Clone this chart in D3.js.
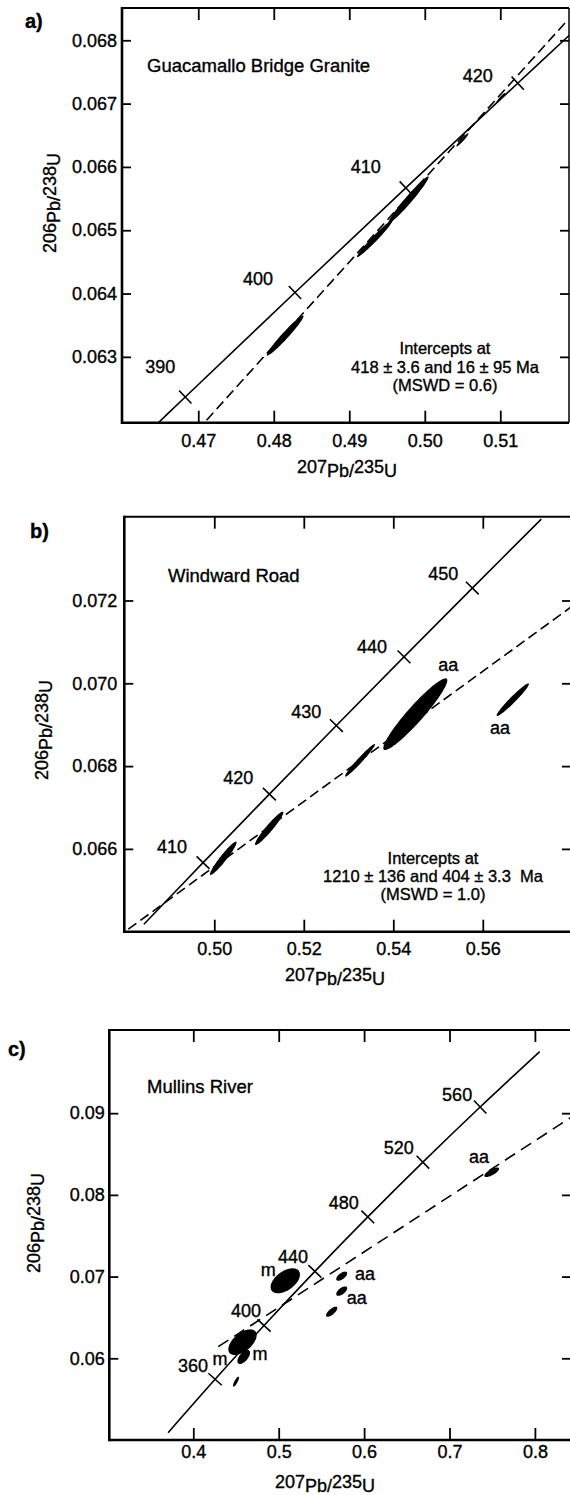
<!DOCTYPE html>
<html><head><meta charset="utf-8">
<script src="https://cdn.jsdelivr.net/npm/d3@7"></script>
<style>
html,body{margin:0;padding:0;background:#fff;}
svg{display:block;font-family:"Liberation Sans",Arial,Helvetica,sans-serif;}
svg text{fill:#000;stroke:#000;stroke-width:0.35px;}
</style></head><body>
<svg id="chart" width="570" height="1495"></svg>
<script>
// ================= DATA =================
// ---- panel a : Guacamallo Bridge Granite ----
const aTitle = "Guacamallo Bridge Granite";
const aXTicks = [0.47, 0.48, 0.49, 0.50, 0.51];
const aYTicks = [0.063, 0.064, 0.065, 0.066, 0.067, 0.068];
const aConcAge = [385, 390, 400, 410, 420, 425];
const aConcX = [0.46107, 0.46828, 0.48281, 0.49749, 0.51231, 0.51977];
const aConcY = [0.061542, 0.062366, 0.064016, 0.065668, 0.067322, 0.06815];
const aAgeTicks = [390, 400, 410, 420];
const aDiscX = [0.4711, 0.5187];
const aDiscY = [0.0620, 0.06829];
const aEllCX = [0.48151, 0.49337, 0.49785, 0.50498, 0.51007];
const aEllCY = [0.063337, 0.064867, 0.065481, 0.066427, 0.067092];
const aEllEX = [0.00243, 0.00235, 0.00266, 0.0008, 0.0006];
const aEllEY = [0.000316, 0.00029, 0.000369, 0.000104, 0.000078];
const aEllRho = [0.97, 0.977, 0.974, 0.95, 0.95];
const aNoteText = [];
const aNoteX = [];
const aNoteY = [];
const aIntercept = ["Intercepts at", "418 \u00b1 3.6 and 16 \u00b1 95 Ma", "(MSWD = 0.6)"];

// ---- panel b : Windward Road ----
const bTitle = "Windward Road";
const bXTicks = [0.50, 0.52, 0.54, 0.56];
const bYTicks = [0.066, 0.068, 0.070, 0.072];
const bConcAge = [401, 410, 420, 430, 440, 450, 460];
const bConcX = [0.48427, 0.49749, 0.51231, 0.52728, 0.54239, 0.55766, 0.57307];
const bConcY = [0.06418, 0.065668, 0.067322, 0.068979, 0.070638, 0.0723, 0.073965];
const bAgeTicks = [410, 420, 430, 440, 450];
const bDiscX = [0.48078, 0.5797];
const bDiscY = [0.06406, 0.07184];
const bEllCX = [0.50201, 0.51227, 0.53256, 0.54492, 0.5667];
const bEllCY = [0.065773, 0.066497, 0.06814, 0.069254, 0.069604];
const bEllEX = [0.00298, 0.00317, 0.00335, 0.00715, 0.00362];
const bEllEY = [0.000403, 0.000403, 0.000394, 0.000865, 0.000394];
const bEllRho = [0.952, 0.952, 0.975, 0.944, 0.966];
const bNoteText = ["aa", "aa"];
const bNoteX = [0.55229, 0.56384];
const bNoteY = [0.070442, 0.068937];
const bIntercept = ["Intercepts at", "1210 \u00b1 136 and 404 \u00b1 3.3  Ma", "(MSWD = 1.0)"];

// ---- panel c : Mullins River ----
const cTitle = "Mullins River";
const cXTicks = [0.4, 0.5, 0.6, 0.7, 0.8];
const cYTicks = [0.06, 0.07, 0.08, 0.09];
const cConcAge = [320, 360, 400, 440, 480, 520, 560, 600];
const cConcX = [0.37047, 0.42553, 0.48281, 0.54239, 0.60436, 0.66883, 0.73588, 0.80563];
const cConcY = [0.050893, 0.057434, 0.064016, 0.070638, 0.077302, 0.084007, 0.090755, 0.097544];
const cAgeTicks = [360, 400, 440, 480, 520, 560];
const cDiscX = [0.42927, 0.8423];
const cDiscY = [0.06142, 0.08949];
const cEllCX = [0.50773, 0.45761, 0.45902, 0.45, 0.57377, 0.57377, 0.56206, 0.74941];
const cEllCY = [0.069486, 0.06197, 0.06016, 0.05714, 0.07005, 0.06822, 0.0657, 0.08277];
const cEllEX = [0.0172, 0.0166, 0.0074, 0.0035, 0.0064, 0.0064, 0.0066, 0.0086];
const cEllEY = [0.00153, 0.00157, 0.00086, 0.00061, 0.00056, 0.00058, 0.00062, 0.00058];
const cEllRho = [0.5, 0.55, 0.6, 0.8, 0.62, 0.62, 0.72, 0.72];
const cNoteText = ["m", "m", "m", "aa", "aa", "aa"];
const cNoteX = [0.48782, 0.43126, 0.4781, 0.60105, 0.59133, 0.73454];
const cNoteY = [0.07081, 0.06, 0.06061, 0.0704, 0.06747, 0.08468];
const cIntercept = [];

// ================= LAYOUT =================
const panels = [
  { id: "a", label: "a)", labelPos: [25, 28], title: aTitle, titlePos: [147, 72],
    box: { left: 122, right: 569, top: 8, bottom: 422.7 },
    xDomain: [0.4599, 0.5191], yDomain: [0.06196, 0.06851],
    xTicks: aXTicks, yTicks: aYTicks, xFmt: ".2f", yFmt: ".3f",
    xPad: 11.5, yPad: 5,
    concAge: aConcAge, concX: aConcX, concY: aConcY, ageTicks: aAgeTicks,
    ageOff: [[-25, -30], [-37, -14], [-40, -21], [-40, -8]],
    discX: aDiscX, discY: aDiscY, dash: "10,5",
    ell: [aEllCX, aEllCY, aEllEX, aEllEY, aEllRho],
    notes: [aNoteText, aNoteX, aNoteY],
    intercept: aIntercept, interceptPos: [445, 354], interceptStep: 18.5,
    yTitlePos: [60, 203], xTitlePos: [347, 477] },
  { id: "b", label: "b)", labelPos: [30, 538], title: bTitle, titlePos: [168, 582],
    box: { left: 124.3, right: 571, top: 516.7, bottom: 931.7 },
    xDomain: [0.47989, 0.57971], yDomain: [0.064, 0.074024],
    xTicks: bXTicks, yTicks: bYTicks, xFmt: ".2f", yFmt: ".3f",
    xPad: 10.5, yPad: 7,
    concAge: bConcAge, concX: bConcX, concY: bConcY, ageTicks: bAgeTicks,
    ageOff: [[-31, -16], [-31, -16], [-30, -14], [-32, -10], [-29, -14]],
    discX: bDiscX, discY: bDiscY, dash: "10,5",
    ell: [bEllCX, bEllCY, bEllEX, bEllEY, bEllRho],
    notes: [bNoteText, bNoteX, bNoteY],
    intercept: bIntercept, interceptPos: [433, 864], interceptStep: 18,
    yTitlePos: [52, 730], xTitlePos: [335, 985] },
  { id: "c", label: "c)", labelPos: [8, 1056], title: cTitle, titlePos: [147, 1093],
    box: { left: 109.3, right: 571, top: 1030, bottom: 1440 },
    xDomain: [0.30164, 0.84227], yDomain: [0.05, 0.10018],
    xTicks: cXTicks, yTicks: cYTicks, xFmt: ".1f", yFmt: ".2f",
    xPad: 5, yPad: 4.5,
    concAge: cConcAge, concX: cConcX, concY: cConcY, ageTicks: cAgeTicks,
    ageOff: [[-22, -14], [-18, -15], [-22, -15], [-24, -14], [-24, -14], [-23, -12]],
    discX: cDiscX, discY: cDiscY, dash: "12,7",
    ell: [cEllCX, cEllCY, cEllEX, cEllEY, cEllRho],
    notes: [cNoteText, cNoteX, cNoteY],
    intercept: cIntercept, interceptPos: [0, 0], interceptStep: 17,
    yTitlePos: [44, 1223], xTitlePos: [325, 1492] }
];

const FS = 18;
const svg = d3.select("#chart");
svg.append("rect").attr("width", 570).attr("height", 1495).attr("fill", "#fff");

function ellipsePoints(cx, cy, ex, ey, rho) {
  const a = Math.acos(rho);
  return d3.range(0, 96).map(k => {
    const t = k / 96 * 2 * Math.PI;
    return [cx + ex * Math.cos(t), cy + ey * Math.cos(t - a)];
  });
}

function ratioText(sel, top, el1, mid, el2, shift) {
  sel.append("tspan").attr("dy", -shift).text(top);
  sel.append("tspan").attr("dy", shift).text(el1 + "/");
  sel.append("tspan").attr("dy", -shift).text(mid);
  sel.append("tspan").attr("dy", shift).text(el2);
}

panels.forEach(p => {
  const b = p.box;
  const x = d3.scaleLinear().domain(p.xDomain).range([b.left, b.right]);
  const y = d3.scaleLinear().domain(p.yDomain).range([b.bottom, b.top]);
  const g = svg.append("g");
  const clipId = "clip-" + p.id;
  svg.append("clipPath").attr("id", clipId).append("rect")
    .attr("x", b.left).attr("y", b.top)
    .attr("width", b.right - b.left).attr("height", b.bottom - b.top);

  // axes
  const styleAxis = sel => {
    sel.select(".domain").remove();
    sel.attr("font-family", null).attr("font-size", null);
    sel.selectAll(".tick line").attr("stroke", "#000").attr("stroke-width", 1.8);
    sel.selectAll(".tick text").attr("fill", "#000").style("font-size", FS + "px");
  };
  g.append("g").attr("transform", `translate(0,${b.bottom})`)
    .call(d3.axisBottom(x).tickValues(p.xTicks).tickSizeInner(-12).tickSizeOuter(0)
      .tickPadding(p.xPad).tickFormat(d3.format(p.xFmt))).call(styleAxis);
  g.append("g").attr("transform", `translate(0,${b.top})`)
    .call(d3.axisTop(x).tickValues(p.xTicks).tickSizeInner(-12).tickSizeOuter(0)
      .tickFormat("")).call(styleAxis);
  g.append("g").attr("transform", `translate(${b.left},0)`)
    .call(d3.axisLeft(y).tickValues(p.yTicks).tickSizeInner(-9).tickSizeOuter(0)
      .tickPadding(p.yPad).tickFormat(d3.format(p.yFmt))).call(styleAxis);
  g.append("g").attr("transform", `translate(${b.right},0)`)
    .call(d3.axisRight(y).tickValues(p.yTicks).tickSizeInner(-9).tickSizeOuter(0)
      .tickFormat("")).call(styleAxis);

  // frame
  const fr = g.append("g").attr("stroke", "#000").attr("fill", "none");
  fr.append("line").attr("x1", b.left).attr("x2", b.right).attr("y1", b.top).attr("y2", b.top).attr("stroke-width", 2);
  fr.append("line").attr("x1", b.right).attr("x2", b.right).attr("y1", b.top).attr("y2", b.bottom).attr("stroke-width", 1.5);
  fr.append("line").attr("x1", b.left).attr("x2", b.right).attr("y1", b.bottom).attr("y2", b.bottom).attr("stroke-width", 2.6);
  fr.append("line").attr("x1", b.left).attr("x2", b.left).attr("y1", b.top - 1).attr("y2", b.bottom + 1.3).attr("stroke-width", 2.6);

  const plot = g.append("g").attr("clip-path", `url(#${clipId})`);

  // ellipses
  const [ecx, ecy, eex, eey, erho] = p.ell;
  const ellLine = d3.line().x(d => x(d[0])).y(d => y(d[1])).curve(d3.curveLinearClosed);
  plot.selectAll("path.ell").data(ecx.map((v, i) => ellipsePoints(v, ecy[i], eex[i], eey[i], erho[i])))
    .enter().append("path").attr("class", "ell").attr("d", ellLine).attr("fill", "#000");

  // discordia
  plot.append("path")
    .datum(p.discX.map((v, i) => [v, p.discY[i]]))
    .attr("d", d3.line().x(d => x(d[0])).y(d => y(d[1])))
    .attr("fill", "none").attr("stroke", "#000").attr("stroke-width", 1.6)
    .attr("stroke-dasharray", p.dash);

  // concordia
  const conc = p.concX.map((v, i) => [v, p.concY[i]]);
  plot.append("path").datum(conc)
    .attr("d", d3.line().x(d => x(d[0])).y(d => y(d[1])).curve(d3.curveCatmullRom))
    .attr("fill", "none").attr("stroke", "#000").attr("stroke-width", 1.6);

  // age ticks on concordia
  p.ageTicks.forEach((age, j) => {
    const i = p.concAge.indexOf(age);
    const px = x(p.concX[i]), py = y(p.concY[i]);
    const i0 = Math.max(0, i - 1), i1 = Math.min(p.concAge.length - 1, i + 1);
    let dx = x(p.concX[i1]) - x(p.concX[i0]), dy = y(p.concY[i1]) - y(p.concY[i0]);
    const L = Math.hypot(dx, dy); dx /= L; dy /= L;
    const nx = -dy, ny = dx, h = 9;
    g.append("line").attr("x1", px - nx * h).attr("y1", py - ny * h)
      .attr("x2", px + nx * h).attr("y2", py + ny * h)
      .attr("stroke", "#000").attr("stroke-width", 1.6);
    g.append("text").attr("x", px + p.ageOff[j][0]).attr("y", py + p.ageOff[j][1])
      .attr("dy", "0.35em").attr("text-anchor", "middle").style("font-size", FS + "px")
      .text(age);
  });

  // notes (aa, m)
  const [nt, nxs, nys] = p.notes;
  nt.forEach((t, i) => {
    g.append("text").attr("x", x(nxs[i])).attr("y", y(nys[i])).attr("dy", "0.35em")
      .attr("text-anchor", "middle").style("font-size", FS + "px").text(t);
  });

  // sample name
  g.append("text").attr("x", p.titlePos[0]).attr("y", p.titlePos[1])
    .style("font-size", "18.5px").text(p.title);

  // panel letter
  g.append("text").attr("x", p.labelPos[0]).attr("y", p.labelPos[1])
    .style("font-size", "20px").style("font-weight", "bold").text(p.label);

  // intercept block
  p.intercept.forEach((t, i) => {
    g.append("text").attr("x", p.interceptPos[0]).attr("y", p.interceptPos[1] + i * p.interceptStep)
      .attr("text-anchor", "middle").style("font-size", "16.5px").style("white-space", "pre")
      .attr("xml:space", "preserve").text(t);
  });

  // axis titles
  const xt = g.append("text").attr("x", p.xTitlePos[0]).attr("y", p.xTitlePos[1])
    .attr("text-anchor", "middle").style("font-size", FS + "px");
  ratioText(xt, "207", "Pb", "235", "U", 4);
  const yt = g.append("text")
    .attr("transform", `translate(${p.yTitlePos[0]},${p.yTitlePos[1]}) rotate(-90)`)
    .attr("text-anchor", "middle").style("font-size", FS + "px");
  ratioText(yt, "206", "Pb", "238", "U", 4);
});
</script>
</body></html>
